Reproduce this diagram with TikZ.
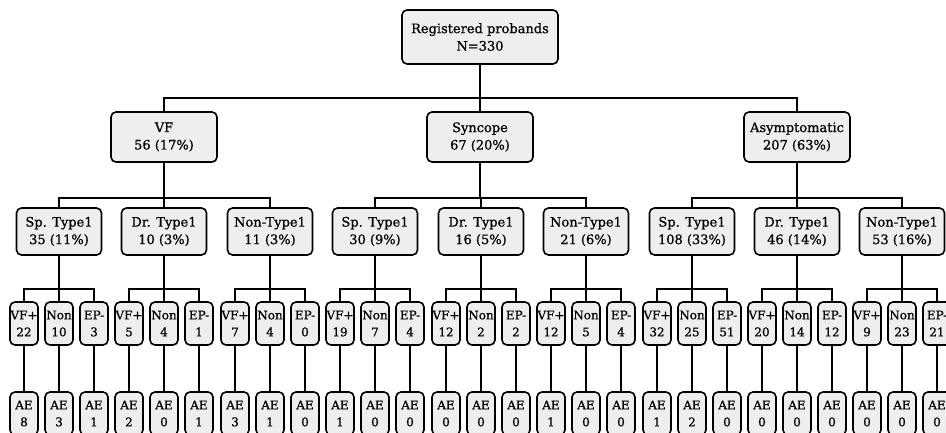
\documentclass[tikz,border=0pt]{standalone}
\usepackage{fontspec}
\setmainfont{DejaVu Serif}[FakeBold=0.7]
\begin{document}
\begin{tikzpicture}[x=1pt,y=-1pt,
  box/.style={draw=black,line width=1.6pt,rounded corners=5pt,fill=gray!13,
    align=center,inner sep=1pt,font=\fontsize{13}{17.5}\selectfont},
  topbox/.style={box,minimum width=156pt,minimum height=54pt},
  midbox/.style={box,minimum width=106pt,minimum height=50pt},
  subbox/.style={box,minimum width=85pt,minimum height=47pt},
  leaf/.style={box,minimum width=28pt,minimum height=43pt,inner xsep=0.5pt,
    font=\fontsize{12}{17}\selectfont},
  conn/.style={line width=2.5pt}]
\clip (0,0) rectangle (946,432);
\fill[white] (0,0) rectangle (946,432);
\node[topbox] (top) at (480,37) {Registered probands\\N=330};
\node[midbox] (g1) at (164,137) {VF\\56 (17\%)};
\node[midbox] (g2) at (480,137) {Syncope\\67 (20\%)};
\node[midbox] (g3) at (797,137) {Asymptomatic\\207 (63\%)};
\foreach \i in {1,2,3}{\draw[conn] (top.south) -- ++(0,33) -| (g\i.north);}
\foreach \cx/\p/\lab/\val [count=\g] in {
  59/1/Sp. Type1/35 (11\%), 164/1/Dr. Type1/10 (3\%), 270/1/Non-Type1/11 (3\%),
  375/2/Sp. Type1/30 (9\%), 481/2/Dr. Type1/16 (5\%), 586/2/Non-Type1/21 (6\%),
  692/3/Sp. Type1/108 (33\%), 797/3/Dr. Type1/46 (14\%), 902/3/Non-Type1/53 (16\%)}{
  \node[subbox] (c\g) at (\cx,231.5) {\lab\\\val};
  \draw[conn] (g\p.south) -- ++(0,35) -| (c\g.north);
}
\foreach \cx/\va/\vb/\vc/\aa/\ab/\ac [count=\g] in {
  59/22/10/3/8/3/1, 164/5/4/1/2/0/1, 270/7/4/0/3/1/0,
  375/19/7/4/1/0/0, 481/12/2/2/0/0/0, 586/12/5/4/1/0/0,
  692/32/25/51/1/2/0, 797/20/14/12/0/0/0, 902/9/23/21/0/0/0}{
  \node[leaf] (d\g-a) at (\cx-35,323.5) {VF+\\\va};
  \node[leaf] (d\g-b) at (\cx,323.5) {Non\\\vb};
  \node[leaf] (d\g-c) at (\cx+35,323.5) {EP-\\\vc};
  \node[leaf] (e\g-a) at (\cx-35,413.5) {AE\\\aa};
  \node[leaf] (e\g-b) at (\cx,413.5) {AE\\\ab};
  \node[leaf] (e\g-c) at (\cx+35,413.5) {AE\\\ac};
  \foreach \s in {a,b,c}{
    \draw[conn] (c\g.south) -- ++(0,33) -| (d\g-\s.north);
    \draw[conn] (d\g-\s.south) -- (e\g-\s.north);
  }
}
\end{tikzpicture}
\end{document}
